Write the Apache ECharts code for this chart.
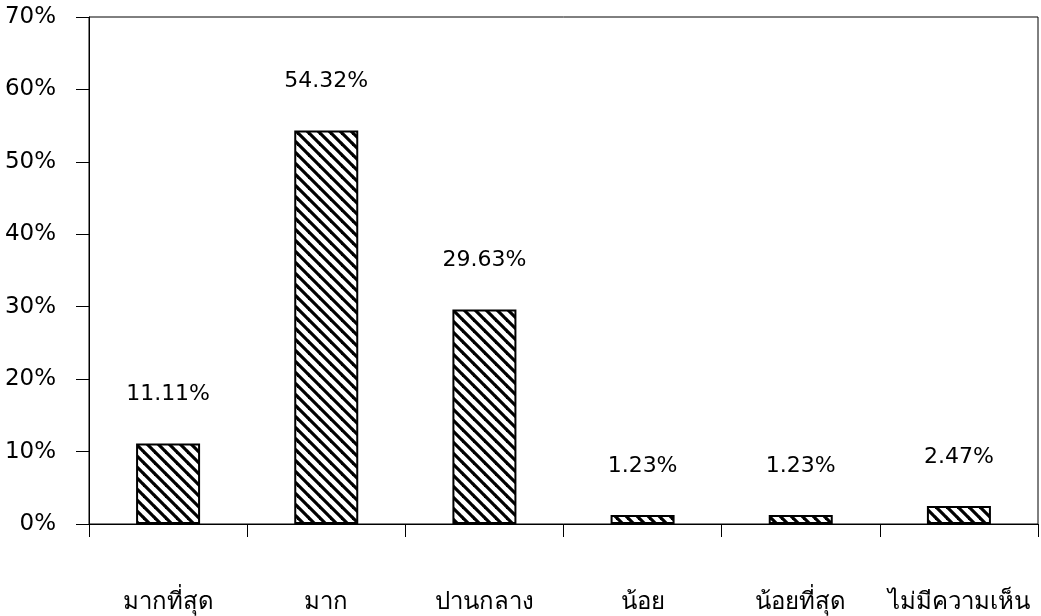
<!DOCTYPE html>
<html>
<head>
<meta charset="utf-8">
<script src="https://cdn.jsdelivr.net/npm/echarts@6/dist/echarts.min.js"></script>
<style>
  html, body { margin: 0; padding: 0; background: #fff; }
  #chart { width: 1041px; height: 616px; }
</style>
</head>
<body>
<div id="chart"></div>
<script>
// Opinion levels and their share of responses (%)
const categories = ['มากที่สุด', 'มาก', 'ปานกลาง', 'น้อย', 'น้อยที่สุด', 'ไม่มีความเห็น'];
const percentages = [11.11, 54.32, 29.63, 1.23, 1.23, 2.47];
const yTicks = [0, 10, 20, 30, 40, 50, 60, 70];

// Diagonal hatch fill for the bars
function hatchPattern() {
  const size = 11;
  const c = document.createElement('canvas');
  c.width = size; c.height = size;
  const ctx = c.getContext('2d');
  ctx.fillStyle = '#fff';
  ctx.fillRect(0, 0, size, size);
  ctx.strokeStyle = '#000';
  ctx.lineWidth = 3.2;
  for (const off of [-size, 0, size]) {
    ctx.beginPath();
    ctx.moveTo(off - 1, -1);
    ctx.lineTo(off + size + 1, size + 1);
    ctx.stroke();
  }
  return c;
}

const chart = echarts.init(document.getElementById('chart'));
chart.setOption({
  animation: false,
  backgroundColor: '#fff',
  grid: {
    left: 89, right: 3, top: 17, bottom: 92,
    show: true, borderColor: '#000', borderWidth: 1
  },
  xAxis: {
    type: 'category',
    data: categories,
    axisLine: { lineStyle: { color: '#000', width: 1 } },
    axisTick: { show: true, interval: 0, length: 13, lineStyle: { color: '#000' } },
    axisLabel: {
      interval: 0,
      color: '#000', fontSize: 24, margin: 66,
      fontFamily: 'Noto Sans, DejaVu Sans, sans-serif'
    }
  },
  yAxis: {
    type: 'value',
    min: yTicks[0],
    max: yTicks[yTicks.length - 1],
    interval: 10,
    axisLine: { show: true, lineStyle: { color: '#000', width: 1 } },
    axisTick: { show: true, inside: false, length: 13, lineStyle: { color: '#000' } },
    splitLine: { show: false },
    axisLabel: {
      color: '#000', fontSize: 23, margin: 33,
      fontFamily: 'DejaVu Sans, sans-serif',
      formatter: '{value}%'
    }
  },
  series: [{
    type: 'bar',
    data: percentages,
    barWidth: 64,
    itemStyle: {
      color: { image: hatchPattern(), repeat: 'repeat' },
      borderColor: '#000',
      borderWidth: 2
    },
    label: {
      show: true,
      position: 'top',
      distance: 38,
      color: '#000',
      fontSize: 22,
      fontFamily: 'DejaVu Sans, sans-serif',
      formatter: p => p.value.toFixed(2) + '%'
    }
  }]
});
</script>
</body>
</html>
